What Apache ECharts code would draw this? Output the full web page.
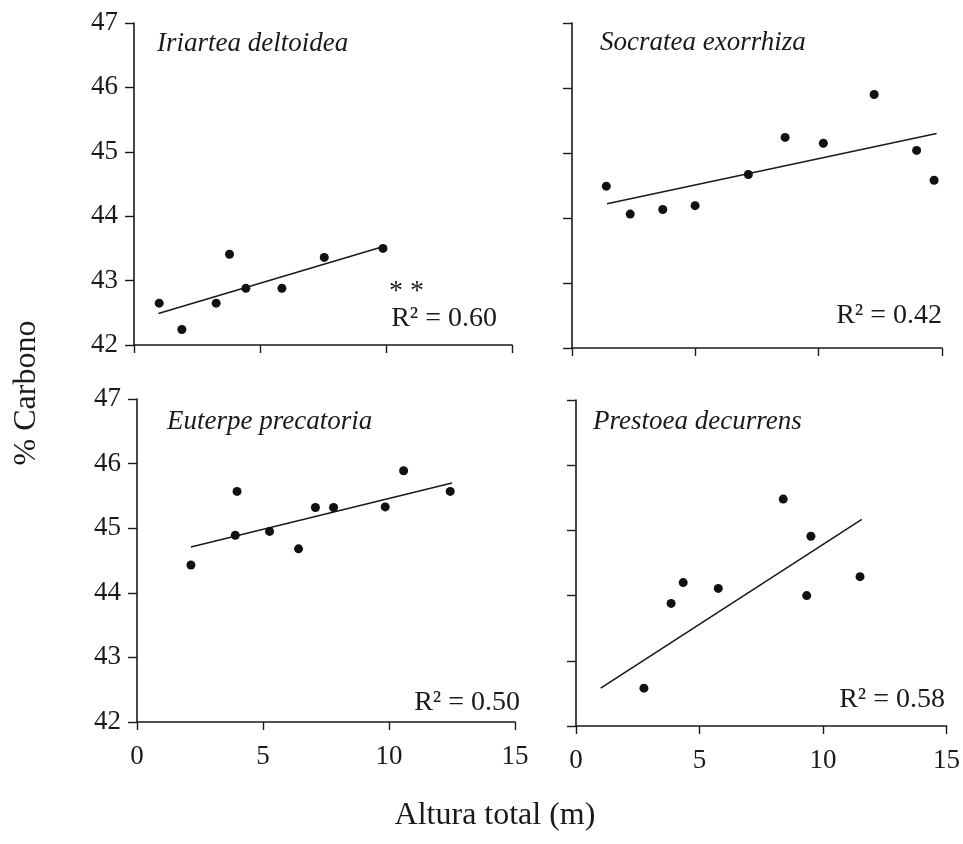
<!DOCTYPE html>
<html>
<head>
<meta charset="utf-8">
<script src="https://cdn.jsdelivr.net/npm/echarts@6/dist/echarts.min.js"></script>
<style>
  html, body { margin: 0; padding: 0; background: #fff; }
  #main { width: 963px; height: 844px; }
</style>
</head>
<body>
<div id="main"></div>
<script>
// valores (altura en m, % carbono)
var species = ['Iriartea deltoidea', 'Socratea exorrhiza', 'Euterpe precatoria', 'Prestoea decurrens'];
var r2Labels = ['R² = 0.60', 'R² = 0.42', 'R² = 0.50', 'R² = 0.58'];

var iriX = [1.0, 1.9, 3.26, 3.79, 4.44, 5.87, 7.55, 9.88];
var iriY = [42.65, 42.24, 42.65, 43.41, 42.88, 42.88, 43.36, 43.5];
var iriFit = [[0.97, 42.49], [9.9, 43.53]];

var socX = [1.39, 2.36, 3.68, 4.99, 7.15, 8.64, 10.19, 12.25, 13.97, 14.68];
var socY = [44.49, 44.06, 44.13, 44.19, 44.67, 45.24, 45.15, 45.9, 45.04, 44.58];
var socFit = [[1.42, 44.22], [14.78, 45.3]];

var eutX = [2.14, 3.97, 3.9, 5.26, 6.41, 7.08, 7.8, 9.85, 10.58, 12.43];
var eutY = [44.43, 45.57, 44.89, 44.95, 44.68, 45.32, 45.32, 45.33, 45.89, 45.57];
var eutFit = [[2.14, 44.71], [12.5, 45.7]];

var preX = [2.75, 3.85, 4.34, 5.76, 8.39, 9.51, 9.34, 11.5];
var preY = [42.58, 43.88, 44.2, 44.11, 45.48, 44.91, 44.0, 44.29];
var preFit = [[1.0, 42.58], [11.57, 45.17]];

var xTicks = [0, 5, 10, 15];
var yTicks = [42, 43, 44, 45, 46, 47];

var allX = [iriX, socX, eutX, preX];
var allY = [iriY, socY, eutY, preY];
var allFit = [iriFit, socFit, eutFit, preFit];

var serif = '"Liberation Serif", "Times New Roman", serif';
var ink = '#1a1a1a';

var grids = [
  { left: 134, top: 23, width: 378, height: 322 },
  { left: 572, top: 23, width: 370, height: 325 },
  { left: 137, top: 399, width: 378, height: 323 },
  { left: 576, top: 400, width: 371, height: 326 }
];

function pairs(xs, ys) {
  return xs.map(function (x, i) { return [x, ys[i]]; });
}

var xAxes = [], yAxes = [], series = [];
for (var i = 0; i < 4; i++) {
  var bottomRow = i >= 2;
  var leftCol = i % 2 === 0;
  xAxes.push({
    gridIndex: i, type: 'value',
    min: xTicks[0], max: xTicks[xTicks.length - 1], interval: 5,
    axisLine: { lineStyle: { color: ink, width: 1.6 } },
    axisTick: { length: 8, lineStyle: { color: ink, width: 1.4 } },
    axisLabel: { show: bottomRow, margin: 21, fontFamily: serif, fontSize: 27, color: ink },
    splitLine: { show: false }
  });
  yAxes.push({
    gridIndex: i, type: 'value',
    min: yTicks[0], max: yTicks[yTicks.length - 1], interval: 1,
    axisLine: { show: true, lineStyle: { color: ink, width: 1.6 } },
    axisTick: { show: true, length: 9, lineStyle: { color: ink, width: 1.4 } },
    axisLabel: { show: leftCol, margin: 16, fontFamily: serif, fontSize: 27, color: ink },
    splitLine: { show: false }
  });
  series.push({
    type: 'scatter', xAxisIndex: i, yAxisIndex: i,
    data: pairs(allX[i], allY[i]),
    symbol: 'circle', symbolSize: 9,
    itemStyle: { color: '#111', opacity: 1 },
    z: 3
  });
  series.push({
    type: 'line', xAxisIndex: i, yAxisIndex: i,
    data: allFit[i],
    symbol: 'none',
    lineStyle: { color: ink, width: 1.6 },
    z: 2
  });
}

// titulos de especie, R2 y nombres de ejes
var titlePos = [[157, 44], [600, 43], [167, 422], [593, 422]];
var r2Pos = [[497, 319], [942, 316], [520, 703], [945, 700]];
var graphics = [];
species.forEach(function (name, i) {
  graphics.push({
    type: 'text', x: titlePos[i][0], y: titlePos[i][1],
    style: { text: name, fill: ink, font: 'italic 27px ' + serif, textAlign: 'left', textVerticalAlign: 'middle' }
  });
  graphics.push({
    type: 'text', x: r2Pos[i][0], y: r2Pos[i][1],
    style: { text: r2Labels[i], fill: ink, font: '28px ' + serif, textAlign: 'right', textVerticalAlign: 'middle' }
  });
});
graphics.push({
  type: 'text', x: 389, y: 292,
  style: { text: '* *', fill: ink, font: '28px ' + serif, textAlign: 'left', textVerticalAlign: 'middle' }
});
graphics.push({
  type: 'text', x: 27, y: 393, rotation: Math.PI / 2,
  style: { text: '% Carbono', fill: ink, font: '32px ' + serif, textAlign: 'center', textVerticalAlign: 'middle' }
});
graphics.push({
  type: 'text', x: 495, y: 816,
  style: { text: 'Altura total (m)', fill: ink, font: '32px ' + serif, textAlign: 'center', textVerticalAlign: 'middle' }
});

var option = {
  backgroundColor: '#fff',
  animation: false,
  grid: grids,
  xAxis: xAxes,
  yAxis: yAxes,
  series: series,
  graphic: graphics
};

var chart = echarts.init(document.getElementById('main'), null, { renderer: 'canvas' });
chart.setOption(option);
</script>
</body>
</html>
